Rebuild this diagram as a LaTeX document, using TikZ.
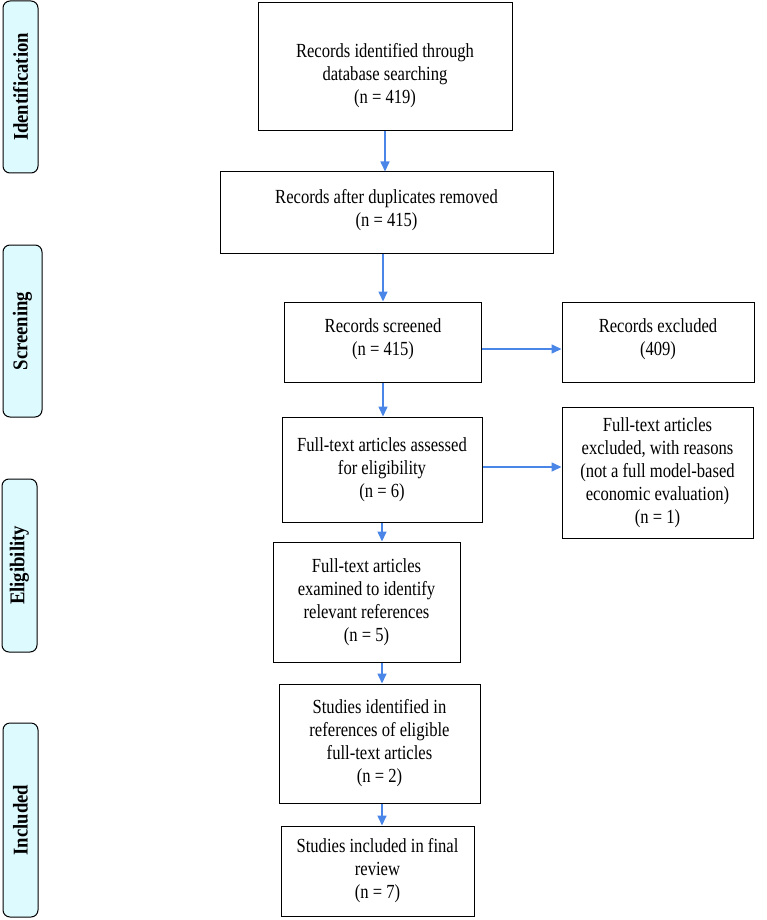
\documentclass[tikz,border=0pt]{standalone}
\usepackage{fontspec}
\setmainfont{Liberation Serif}[FakeStretch=0.83]
\newfontfamily\phasefont{Liberation Serif}[FakeStretch=0.89]
\usetikzlibrary{arrows.meta}
\definecolor{arrowblue}{RGB}{74,134,232}
\definecolor{phasefill}{RGB}{221,250,255}
\begin{document}
\begin{tikzpicture}[x=1pt,y=-1pt,
  box/.style={draw, line width=1pt, align=center, inner sep=0pt,
    font=\fontsize{20}{23}\selectfont},
  phase/.style={draw, line width=1pt, fill=phasefill, rounded corners=7pt,
    rotate=90, inner sep=0pt, font=\phasefont\fontsize{21}{24}\selectfont\bfseries},
  arr/.style={draw=arrowblue, line width=1.6pt,
    -{Triangle[length=10pt,width=9pt]}}]
\useasboundingbox (0,0) rectangle (767,920);

% phase labels
\node[phase, minimum width=172pt, minimum height=35pt] (p1) at (20.5,87) {Identification};
\node[phase, minimum width=172pt, minimum height=39pt] (p2) at (22.5,331) {Screening};
\node[phase, minimum width=173pt, minimum height=35pt] (p3) at (19.5,565.5) {Eligibility};
\node[phase, minimum width=194pt, minimum height=35pt] (p4) at (20.5,820) {Included};

% boxes
\node[box, minimum width=254pt, minimum height=128pt] (b1) at (385,67)
  {\mbox{}\\[9pt]Records identified through\\database searching\\(n = 419)};
\node[box, minimum width=333pt, minimum height=81pt] (b2) at (386.5,212.5)
  {Records after duplicates removed\\(n = 415)\\[-13pt]\mbox{}};
\node[box, minimum width=197pt, minimum height=80pt] (b3) at (383,342)
  {Records screened\\(n = 415)\\[-13pt]\mbox{}};
\node[box, minimum width=192pt, minimum height=80pt] (b4) at (658,342)
  {Records excluded\\(409)\\[-13pt]\mbox{}};
\node[box, minimum width=200pt, minimum height=105pt] (b5) at (382,469.5)
  {Full-text articles assessed\\for eligibility\\(n = 6)};
\node[box, minimum width=191pt, minimum height=131pt] (b6) at (657.5,472.5)
  {Full-text articles\\excluded, with reasons\\(not a full model-based\\economic evaluation)\\(n = 1)};
\node[box, minimum width=187pt, minimum height=120pt] (b7) at (366.5,602)
  {Full-text articles\\examined to identify\\relevant references\\(n = 5)};
\node[box, minimum width=201pt, minimum height=119pt] (b8) at (379.5,743.5)
  {Studies identified in\\references of eligible\\full-text articles\\(n = 2)};
\node[box, minimum width=193pt, minimum height=90pt] (b9) at (377.5,871)
  {Studies included in final\\review\\(n = 7)};

% connectors
\draw[arr] (b1.south) -- (b1.south |- b2.north);
\draw[arr] (b3.north |- b2.south) -- (b3.north);
\draw[arr] ([yshift=-7pt]b3.east) -- ([yshift=-7pt]b3.east -| b4.west);
\draw[arr] (b3.south) -- (b3.south |- b5.north);
\draw[arr] ([yshift=2.5pt]b5.east) -- ([yshift=2.5pt]b5.east -| b6.west);
\draw[arr] (b5.south) -- (b5.south |- b7.north);
\draw[arr] (b5.south |- b7.south) -- (b5.south |- b8.north);
\draw[arr] (b5.south |- b8.south) -- (b5.south |- b9.north);
\end{tikzpicture}
\end{document}
